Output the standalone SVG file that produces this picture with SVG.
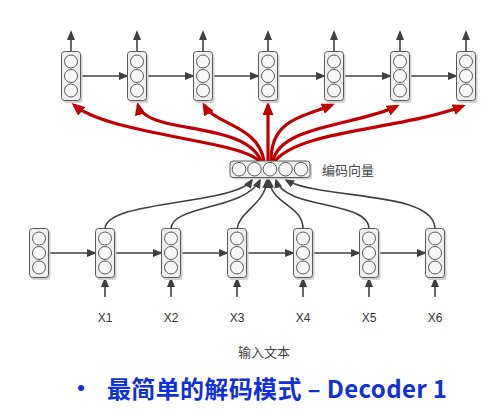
<svg xmlns="http://www.w3.org/2000/svg" xmlns:xlink="http://www.w3.org/1999/xlink" width="483" height="413" viewBox="0 0 483 413">
<style>
.box{fill:#efefef;stroke:#5a5a5a;stroke-width:1}
.shadow{fill:#d0d0d0}
.c{fill:#f7f7f7;stroke:#5a5a5a;stroke-width:1}
.ln{fill:none;stroke:#404040;stroke-width:1.6}
.red{fill:none;stroke:#c00000;stroke-width:3.2}
.lbl{font-family:"Liberation Sans","DejaVu Sans",sans-serif;font-size:12px;fill:#333}
.cjk{font-family:"Noto Sans CJK SC","Noto Sans",sans-serif;font-size:13px;fill:#444}
.title{font-family:"Noto Sans CJK SC","Noto Sans",sans-serif;font-size:24px;font-weight:bold;fill:#1030d8}
</style>
<defs>
<marker id="ah" markerUnits="userSpaceOnUse" markerWidth="10" markerHeight="8" viewBox="0 0 10 8" refX="8" refY="4" orient="auto">
<path d="M0,0 L10,4 L0,8 z" fill="#404040"/>
</marker>
<marker id="rh" markerUnits="userSpaceOnUse" markerWidth="13" markerHeight="11" viewBox="0 0 13 11" refX="10" refY="5.5" orient="auto">
<path d="M0,0 L13,5.5 L0,11 z" fill="#c00000"/>
</marker>
<g id="cell">
<rect class="shadow" x="-8" y="-22.5" width="19.5" height="49.5" rx="3"/>
<rect class="box" x="-9.5" y="-24.5" width="19" height="49" rx="3"/>
<circle class="c" cx="0" cy="-14.5" r="6.5"/>
<circle class="c" cx="0" cy="0" r="6.5"/>
<circle class="c" cx="0" cy="14.5" r="6.5"/>
</g>
</defs>
<rect width="483" height="413" fill="#ffffff"/>
<g id="connectors">
<path class="ln" marker-end="url(#ah)" d="M71,52 L71,32"/>
<path class="ln" marker-end="url(#ah)" d="M137,52 L137,32"/>
<path class="ln" marker-end="url(#ah)" d="M203,52 L203,32"/>
<path class="ln" marker-end="url(#ah)" d="M268,52 L268,32"/>
<path class="ln" marker-end="url(#ah)" d="M334,52 L334,32"/>
<path class="ln" marker-end="url(#ah)" d="M400,52 L400,32"/>
<path class="ln" marker-end="url(#ah)" d="M466,52 L466,32"/>
<path class="ln" marker-end="url(#ah)" d="M81,76 L127,76"/>
<path class="ln" marker-end="url(#ah)" d="M147,76 L193,76"/>
<path class="ln" marker-end="url(#ah)" d="M213,76 L258,76"/>
<path class="ln" marker-end="url(#ah)" d="M278,76 L324,76"/>
<path class="ln" marker-end="url(#ah)" d="M344,76 L390,76"/>
<path class="ln" marker-end="url(#ah)" d="M410,76 L456,76"/>
<path class="ln" marker-end="url(#ah)" d="M49,253 L95,253"/>
<path class="ln" marker-end="url(#ah)" d="M115,253 L161,253"/>
<path class="ln" marker-end="url(#ah)" d="M181,253 L227,253"/>
<path class="ln" marker-end="url(#ah)" d="M247,253 L293,253"/>
<path class="ln" marker-end="url(#ah)" d="M313,253 L359,253"/>
<path class="ln" marker-end="url(#ah)" d="M379,253 L425,253"/>
<path class="ln" marker-end="url(#ah)" d="M105,297 L105,279"/>
<path class="ln" marker-end="url(#ah)" d="M171,297 L171,279"/>
<path class="ln" marker-end="url(#ah)" d="M237,297 L237,279"/>
<path class="ln" marker-end="url(#ah)" d="M303,297 L303,279"/>
<path class="ln" marker-end="url(#ah)" d="M369,297 L369,279"/>
<path class="ln" marker-end="url(#ah)" d="M435,297 L435,279"/>
<path class="ln" marker-end="url(#ah)" d="M105,229 C105,200 235,205 252,180"/>
<path class="ln" marker-end="url(#ah)" d="M171,229 C171,205 245,210 260,180"/>
<path class="ln" marker-end="url(#ah)" d="M237,229 C240,210 265,205 267,180"/>
<path class="ln" marker-end="url(#ah)" d="M303,229 C303,205 272,205 269,180"/>
<path class="ln" marker-end="url(#ah)" d="M369,229 C369,200 285,210 276,180"/>
<path class="ln" marker-end="url(#ah)" d="M435,229 C435,190 320,200 286,180"/>
<path class="red" marker-end="url(#rh)" d="M259,161 C240,140 110,135 74,105"/>
<path class="red" marker-end="url(#rh)" d="M261,161 C245,120 145,135 138,105"/>
<path class="red" marker-end="url(#rh)" d="M264,161 C258,125 215,125 204,105"/>
<path class="red" marker-end="url(#rh)" d="M268,161 L268,105"/>
<path class="red" marker-end="url(#rh)" d="M271,161 C271,120 300,118 332,105"/>
<path class="red" marker-end="url(#rh)" d="M273,161 C280,125 360,125 397,106"/>
<path class="red" marker-end="url(#rh)" d="M275,161 C300,130 400,130 463,106"/>
</g>
<g id="dec1"><use xlink:href="#cell" x="71" y="76"/></g>
<g id="dec2"><use xlink:href="#cell" x="137" y="76"/></g>
<g id="dec3"><use xlink:href="#cell" x="203" y="76"/></g>
<g id="dec4"><use xlink:href="#cell" x="268" y="76"/></g>
<g id="dec5"><use xlink:href="#cell" x="334" y="76"/></g>
<g id="dec6"><use xlink:href="#cell" x="400" y="76"/></g>
<g id="dec7"><use xlink:href="#cell" x="466" y="76"/></g>
<g id="enc0"><use xlink:href="#cell" x="39" y="253"/></g>
<g id="enc1"><use xlink:href="#cell" x="105" y="253"/></g>
<g id="enc2"><use xlink:href="#cell" x="171" y="253"/></g>
<g id="enc3"><use xlink:href="#cell" x="237" y="253"/></g>
<g id="enc4"><use xlink:href="#cell" x="303" y="253"/></g>
<g id="enc5"><use xlink:href="#cell" x="369" y="253"/></g>
<g id="enc6"><use xlink:href="#cell" x="435" y="253"/></g>
<g id="vector">
<rect class="shadow" x="232" y="163" width="80" height="16.5" rx="3"/>
<rect class="box" x="230" y="161" width="80" height="16.5" rx="3"/>
<circle class="c" cx="239" cy="169.2" r="6.8"/>
<circle class="c" cx="254.5" cy="169.2" r="6.8"/>
<circle class="c" cx="270" cy="169.2" r="6.8"/>
<circle class="c" cx="285.5" cy="169.2" r="6.8"/>
<circle class="c" cx="301" cy="169.2" r="6.8"/>
<text class="cjk" x="322" y="174.5">编码向量</text>
</g>
<g id="labels">
<text class="lbl" x="105" y="322" text-anchor="middle">X1</text>
<text class="lbl" x="171" y="322" text-anchor="middle">X2</text>
<text class="lbl" x="237" y="322" text-anchor="middle">X3</text>
<text class="lbl" x="303" y="322" text-anchor="middle">X4</text>
<text class="lbl" x="369" y="322" text-anchor="middle">X5</text>
<text class="lbl" x="435" y="322" text-anchor="middle">X6</text>
<text class="cjk" x="264" y="356.5" text-anchor="middle">输入文本</text>
</g>
<g id="title">
<text class="title" x="69" y="397" font-size="18">•</text>
<text class="title" x="107" y="398" textLength="340" lengthAdjust="spacing">最简单的解码模式 – Decoder 1</text>
</g>
</svg>
